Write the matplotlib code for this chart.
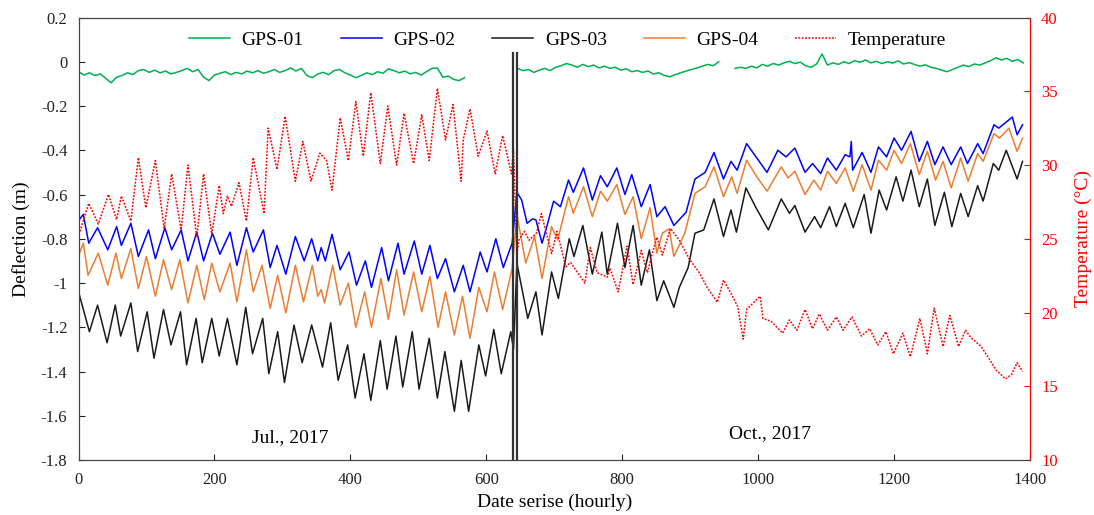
import numpy as np
from matplotlib import pyplot as plt

plt.rcParams['font.family'] = ['Liberation Serif', 'DejaVu Serif']
plt.rcParams['axes.unicode_minus'] = False

# ---- data (hour, value) ----
# GPS-01 sampled every 8 h, gap between the two campaigns
gps01_a_start = 0
gps01_a = [-0.045, -0.060, -0.050, -0.062, -0.055, -0.075, -0.095, -0.070, -0.062, -0.050,
           -0.058, -0.040, -0.035, -0.048, -0.038, -0.050, -0.042, -0.055, -0.048, -0.040,
           -0.030, -0.045, -0.035, -0.070, -0.085, -0.060, -0.052, -0.045, -0.058, -0.048,
           -0.055, -0.042, -0.050, -0.040, -0.052, -0.045, -0.035, -0.048, -0.040, -0.028,
           -0.042, -0.030, -0.062, -0.072, -0.055, -0.048, -0.058, -0.040, -0.035, -0.050,
           -0.060, -0.072, -0.062, -0.050, -0.058, -0.045, -0.052, -0.032, -0.040, -0.050,
           -0.042, -0.055, -0.048, -0.060, -0.045, -0.030, -0.028, -0.070, -0.065, -0.080,
           -0.085, -0.072]
gps01_b_start = 646
gps01_b = [-0.030, -0.040, -0.035, -0.048, -0.038, -0.030, -0.040, -0.025, -0.018, -0.008,
           -0.015, -0.025, -0.012, -0.022, -0.015, -0.028, -0.020, -0.030, -0.025, -0.038,
           -0.032, -0.045, -0.040, -0.048, -0.042, -0.055, -0.050, -0.062, -0.068, -0.058,
           -0.050, -0.042, -0.035, -0.028, -0.020, -0.012, -0.018, 0.000, np.nan, np.nan,
           -0.030, -0.025, -0.030, -0.020, -0.028, -0.012, -0.020, -0.008, -0.015, -0.005,
           0.002, -0.008, -0.002, -0.018, -0.025, -0.010, 0.035, -0.015, -0.005, -0.012,
           0.000, -0.008, 0.005, -0.002, 0.008, -0.005, 0.002, -0.008, 0.000, -0.006,
           0.004, -0.010, -0.004, -0.012, -0.020, -0.014, -0.025, -0.030, -0.038, -0.045,
           -0.035, -0.025, -0.015, -0.022, -0.010, -0.015, -0.005, 0.005, 0.018, 0.008,
           0.015, 0.002, 0.010, -0.005]
gps01_step = 8

gps02_h = [2, 7, 15, 28, 43, 56, 63, 77, 88, 103, 113, 127, 137, 151, 161, 174, 184, 197, 208, 223,
           233, 247, 257, 272, 282, 292, 305, 319, 332, 343, 352, 357, 363, 373, 385, 398, 409, 422,
           431, 446, 456, 470, 479, 494, 505, 517, 528, 540, 553, 566, 576, 591, 601, 614, 625, 638,
           645, 652, 660, 668, 673, 682, 689, 699, 709, 721, 728, 743, 756, 768, 778, 792, 804, 814,
           828, 841, 851, 863, 876, 894, 907, 922, 935, 949, 960, 969, 983, 998, 1013, 1029, 1041,
           1054, 1069, 1080, 1092, 1102, 1115, 1128, 1135, 1137, 1139, 1153, 1166, 1177, 1189, 1200,
           1211, 1225, 1237, 1249, 1260, 1272, 1284, 1298, 1308, 1323, 1331, 1347, 1354, 1374, 1381, 1389]
gps02_v = [-0.71, -0.69, -0.82, -0.75, -0.85, -0.745, -0.83, -0.73, -0.88, -0.76, -0.89, -0.75, -0.85,
           -0.76, -0.90, -0.77, -0.90, -0.775, -0.87, -0.77, -0.92, -0.75, -0.86, -0.76, -0.93, -0.83,
           -0.96, -0.79, -0.90, -0.80, -0.90, -0.84, -0.90, -0.78, -0.94, -0.86, -1.01, -0.90, -1.02,
           -0.84, -0.99, -0.82, -0.96, -0.81, -0.96, -0.83, -0.98, -0.89, -1.04, -0.92, -1.04, -0.86,
           -0.95, -0.80, -0.93, -0.82,
           -0.59, -0.625, -0.73, -0.71, -0.715, -0.82, -0.745, -0.63, -0.655, -0.535, -0.59, -0.48,
           -0.625, -0.515, -0.565, -0.48, -0.60, -0.51, -0.655, -0.555, -0.70, -0.655, -0.74, -0.68,
           -0.53, -0.50, -0.41, -0.53, -0.45, -0.49, -0.37, -0.435, -0.50, -0.40, -0.43, -0.39, -0.50,
           -0.46, -0.505, -0.435, -0.49, -0.42, -0.43, -0.36, -0.49, -0.41, -0.50, -0.385, -0.43,
           -0.345, -0.40, -0.315, -0.45, -0.36, -0.465, -0.385, -0.465, -0.385, -0.46, -0.37, -0.415,
           -0.285, -0.30, -0.25, -0.33, -0.285]

gps03_h = [0, 16, 28, 42, 54, 62, 77, 87, 101, 111, 125, 136, 150, 159, 173, 182, 196, 207, 219, 233,
           246, 256, 271, 280, 293, 303, 317, 329, 343, 359, 371, 382, 396, 407, 420, 430, 444, 454,
           467, 477, 491, 501, 516, 528, 539, 553, 563, 574, 589, 599, 611, 622, 636, 640,
           645, 661, 673, 682, 696, 706, 722, 729, 742, 756, 770, 778, 793, 804, 816, 828, 840, 851,
           861, 876, 884, 897, 907, 920, 935, 949, 960, 968, 982, 996, 1015, 1034, 1046, 1054, 1069,
           1083, 1092, 1105, 1115, 1128, 1140, 1156, 1166, 1178, 1189, 1203, 1213, 1225, 1237, 1249,
           1260, 1274, 1285, 1298, 1309, 1323, 1331, 1346, 1354, 1365, 1381, 1389]
gps03_v = [-1.04, -1.22, -1.10, -1.27, -1.10, -1.24, -1.09, -1.31, -1.13, -1.34, -1.12, -1.28, -1.13,
           -1.37, -1.16, -1.36, -1.16, -1.33, -1.16, -1.37, -1.11, -1.32, -1.16, -1.41, -1.22, -1.45,
           -1.19, -1.36, -1.19, -1.38, -1.18, -1.44, -1.28, -1.52, -1.32, -1.53, -1.26, -1.48, -1.24,
           -1.47, -1.22, -1.48, -1.25, -1.52, -1.31, -1.58, -1.35, -1.58, -1.28, -1.42, -1.21, -1.41,
           -1.22, -1.30,
           -0.91, -1.16, -1.04, -1.235, -0.95, -1.07, -0.80, -0.88, -0.74, -0.96, -0.77, -0.96, -0.73,
           -0.93, -0.74, -1.01, -0.85, -1.08, -0.99, -1.11, -1.02, -0.93, -0.775, -0.76, -0.62, -0.79,
           -0.67, -0.77, -0.57, -0.655, -0.76, -0.62, -0.685, -0.65, -0.77, -0.70, -0.75, -0.655,
           -0.745, -0.64, -0.75, -0.60, -0.775, -0.58, -0.67, -0.52, -0.63, -0.49, -0.655, -0.53,
           -0.74, -0.59, -0.745, -0.595, -0.70, -0.56, -0.63, -0.46, -0.49, -0.40, -0.53, -0.45]

gps04_h = [2, 7, 14, 29, 43, 55, 63, 77, 88, 100, 113, 125, 137, 149, 161, 174, 185, 196, 208, 223,
           233, 247, 257, 270, 282, 293, 305, 319, 331, 344, 352, 357, 362, 374, 385, 397, 408, 421,
           431, 445, 456, 468, 479, 493, 505, 517, 529, 540, 553, 565, 576, 589, 601, 612, 624, 638,
           645, 658, 671, 682, 696, 705, 721, 728, 743, 756, 768, 778, 792, 804, 816, 828, 841, 851,
           859, 869, 876, 892, 907, 922, 935, 949, 961, 969, 983, 998, 1013, 1034, 1044, 1054, 1069,
           1082, 1092, 1102, 1115, 1128, 1140, 1153, 1166, 1177, 1189, 1200, 1211, 1224, 1237, 1249,
           1261, 1272, 1284, 1298, 1309, 1323, 1331, 1347, 1355, 1369, 1381, 1389]
gps04_v = [-0.86, -0.82, -0.965, -0.865, -1.01, -0.865, -0.98, -0.845, -1.025, -0.88, -1.06, -0.895,
           -1.03, -0.895, -1.09, -0.92, -1.075, -0.91, -1.04, -0.91, -1.085, -0.85, -1.04, -0.92,
           -1.115, -0.965, -1.135, -0.92, -1.085, -0.92, -1.06, -1.03, -1.09, -0.92, -1.10, -1.00,
           -1.20, -1.04, -1.20, -0.98, -1.165, -0.94, -1.145, -0.95, -1.13, -0.97, -1.20, -1.04,
           -1.235, -1.06, -1.25, -1.02, -1.13, -0.95, -1.12, -0.935,
           -0.69, -0.91, -0.79, -0.98, -0.745, -0.805, -0.61, -0.685, -0.565, -0.70, -0.585, -0.63,
           -0.555, -0.69, -0.61, -0.80, -0.66, -0.865, -0.775, -0.755, -0.88, -0.775, -0.595, -0.565,
           -0.475, -0.61, -0.52, -0.595, -0.445, -0.52, -0.585, -0.475, -0.525, -0.495, -0.60, -0.535,
           -0.58, -0.495, -0.55, -0.48, -0.585, -0.465, -0.58, -0.445, -0.49, -0.40, -0.46, -0.37,
           -0.51, -0.405, -0.535, -0.45, -0.57, -0.435, -0.54, -0.415, -0.45, -0.325, -0.345, -0.30,
           -0.405, -0.345]

temp_h = [2, 15, 29, 44, 56, 63, 77, 88, 99, 113, 126, 137, 151, 161, 174, 184, 196, 207, 213, 219,
          225, 236, 247, 257, 273, 279, 292, 304, 319, 330, 342, 355, 365, 373, 385, 397, 408, 419,
          430, 444, 455, 468, 479, 493, 505, 516, 528, 540, 551, 563, 566, 576, 588, 601, 613, 624,
          637, 640,
          645, 648, 656, 663, 674, 681, 696, 704, 717, 724, 745, 753, 763, 778, 782, 794, 807, 816,
          828, 837, 843, 851, 859, 871, 884, 899, 912, 925, 940, 949, 960, 970, 978, 983, 996, 1003,
          1007, 1019, 1036, 1046, 1057, 1069, 1080, 1090, 1102, 1115, 1125, 1138, 1152, 1164, 1176,
          1188, 1199, 1213, 1224, 1238, 1249, 1259, 1272, 1282, 1295, 1305, 1313, 1328, 1338, 1350,
          1364, 1373, 1381, 1389]
temp_v = [25.5, 27.4, 26.0, 28.0, 26.3, 27.9, 26.2, 30.5, 27.1, 30.3, 25.7, 29.4, 25.6, 30.0, 25.1,
          29.4, 25.3, 28.6, 26.7, 27.9, 27.2, 28.8, 26.2, 30.5, 26.7, 32.5, 29.7, 33.3, 28.9, 31.6,
          28.9, 30.8, 30.3, 28.3, 33.2, 30.3, 34.3, 30.6, 34.9, 30.1, 34.0, 30.0, 33.5, 30.1, 33.4,
          30.3, 35.2, 31.7, 34.1, 28.9, 31.7, 33.8, 30.6, 32.3, 29.4, 32.0, 29.4, 31.0,
          24.0, 24.9, 25.5, 24.9, 25.4, 26.7, 24.0, 25.5, 23.1, 23.4, 22.0, 24.4, 22.7, 22.4, 23.0,
          21.4, 24.5, 21.9, 24.2, 22.7, 23.8, 25.1, 23.9, 25.7, 24.9, 23.6, 22.8, 21.7, 20.7, 22.2,
          21.3, 20.4, 18.2, 20.2, 20.8, 21.1, 19.6, 19.4, 18.6, 19.5, 18.8, 20.2, 18.9, 19.9, 18.8,
          19.7, 18.8, 19.7, 18.4, 18.9, 17.8, 18.7, 17.2, 18.6, 17.0, 19.6, 17.2, 20.3, 17.7, 19.8,
          17.7, 18.8, 18.3, 17.7, 17.0, 16.1, 15.5, 15.8, 16.6, 16.0]

gap_lines = [640, 645]
x_ticks = [0, 200, 400, 600, 800, 1000, 1200, 1400]
y_ticks = [0.2, 0, -0.2, -0.4, -0.6, -0.8, -1, -1.2, -1.4, -1.6, -1.8]
t_ticks = [10, 15, 20, 25, 30, 35, 40]

gps01_h = np.concatenate([gps01_a_start + gps01_step * np.arange(len(gps01_a)), [600],
                          gps01_b_start + gps01_step * np.arange(len(gps01_b))])
gps01_v = np.concatenate([gps01_a, [np.nan], gps01_b])

fig = plt.figure(figsize=(10.94, 5.15), dpi=100)
ax = fig.add_axes([0.0718, 0.1068, 0.8697, 0.8592])
ax2 = ax.twinx()

l1, = ax.plot(gps01_h, gps01_v, color='#00B050', lw=1.1, label='GPS-01')
l2, = ax.plot(gps02_h, gps02_v, color='#0000FF', lw=1.1, label='GPS-02')
l3, = ax.plot(gps03_h, gps03_v, color='#1a1a1a', lw=1.1, label='GPS-03')
l4, = ax.plot(gps04_h, gps04_v, color='#ED7D31', lw=1.1, label='GPS-04')
l5, = ax2.plot(temp_h, temp_v, color='#FF0000', lw=1.1, ls=(0, (1.2, 1.0)), label='Temperature')

for g in gap_lines:
    ax2.axvline(g, ymin=0, ymax=0.92, color='#333333', lw=1.6)

ax.set_xlim(0, 1400)
ax.set_ylim(-1.8, 0.2)
ax2.set_ylim(10, 40)
ax.set_xticks(x_ticks)
ax.set_yticks(y_ticks)
ax.set_yticklabels(['0.2', '0', '-0.2', '-0.4', '-0.6', '-0.8', '-1', '-1.2', '-1.4', '-1.6', '-1.8'])
ax2.set_yticks(t_ticks)

ax.tick_params(axis='y', direction='in', labelsize=12, length=4, colors='#222222', pad=8)
ax.tick_params(axis='x', direction='in', labelsize=12, length=4, colors='#222222', pad=9)
ax2.tick_params(direction='in', labelsize=12, length=4, colors='#FF0000', pad=8)
for s in ['left', 'bottom', 'top']:
    ax.spines[s].set_color('#444444')
    ax2.spines[s].set_color('#444444')
ax.spines['right'].set_color('#FF0000')
ax2.spines['right'].set_color('#FF0000')

ax.set_xlabel('Date serise (hourly)', fontsize=14, labelpad=4)
ax.set_ylabel('Deflection (m)', fontsize=14, labelpad=8)
ax2.set_ylabel('Temperature (\u00b0C)', fontsize=14, color='#FF0000', labelpad=12)

ax.text(311, -1.70, 'Jul., 2017', fontsize=14, ha='center', va='center')
ax.text(1017, -1.68, 'Oct., 2017', fontsize=14, ha='center', va='center')

ax2.legend(handles=[l1, l2, l3, l4, l5], loc='center', bbox_to_anchor=(0.514, 0.949), ncol=5,
           frameon=False, fontsize=14, handlelength=2.1, handletextpad=0.6, columnspacing=1.9)

fig.savefig('out.png', dpi=100)
